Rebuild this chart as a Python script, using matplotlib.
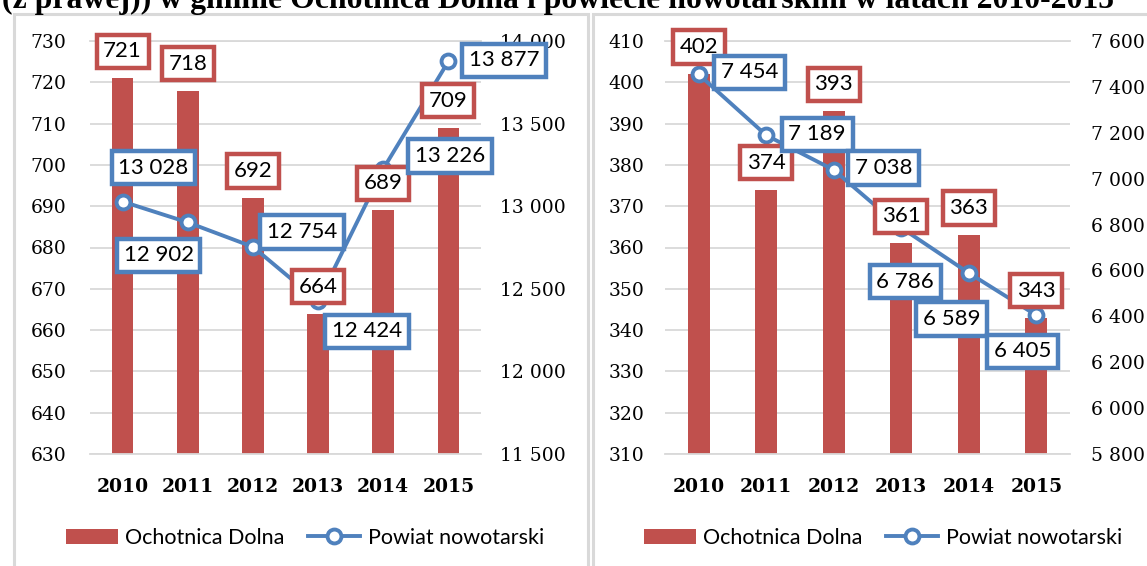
import matplotlib
matplotlib.use("Agg")
import matplotlib.pyplot as plt
from matplotlib.patches import Rectangle
from matplotlib.lines import Line2D
from matplotlib.ticker import FuncFormatter, MultipleLocator

# ---------------- data ----------------
years = ["2010", "2011", "2012", "2013", "2014", "2015"]
left_gmina = [721, 718, 692, 664, 689, 709]
left_powiat = [13028, 12902, 12754, 12424, 13226, 13877]
right_gmina = [402, 374, 393, 361, 363, 343]
right_powiat = [7454, 7189, 7038, 6786, 6589, 6405]
series_names = ["Ochotnica Dolna", "Powiat nowotarski"]
title_text = "(z prawej)) w gminie Ochotnica Dolna i powiecie nowotarskim w latach 2010-2015"

# ---------------- style ----------------
RED = "#C0504D"
BLUE = "#4F81BD"
GRID = "#D9D9D9"
W, H = 1147, 566
plt.rcParams["font.family"] = ["DejaVu Serif"]

fig = plt.figure(figsize=(W / 100, H / 100), dpi=100)


def fx(px):
    return px / W


def fy(py):
    return 1 - py / H


def fmt_space(v, pos=None):
    return f"{int(round(v)):,}".replace(",", " ")


# panel borders
for x0, x1 in [(13.5, 587.5), (592.5, 1170)]:
    fig.add_artist(Rectangle((fx(x0), fy(620)), fx(x1 - x0), (620 - 13.5) / H,
                             transform=fig.transFigure, fill=False,
                             edgecolor=GRID, lw=2.2))

fig.text(fx(2), fy(8), title_text, fontfamily="Liberation Serif",
         fontweight="bold", fontsize=22.9, va="baseline", ha="left")


def panel(left_px, right_px, bars, line, ylim1, step1, ylim2, step2,
          pad_l, pad_r, blue_off, legend_cx):
    ax = fig.add_axes([fx(left_px), fy(454), fx(right_px - left_px), (454 - 41) / H])
    x = list(range(len(years)))
    ax.bar(x, bars, width=0.33, color=RED, zorder=2)
    ax.set_xlim(-0.5, len(years) - 0.5)
    ax.set_ylim(*ylim1)
    ax.yaxis.set_major_locator(MultipleLocator(step1))
    ax.grid(axis="y", color=GRID, lw=1.3, zorder=0)
    ax.set_axisbelow(True)
    ax.set_xticks(x)
    ax.set_xticklabels(years, fontfamily="DejaVu Serif", fontweight="bold", fontsize=13.5)
    for side, s in ax.spines.items():
        if side in ("top", "bottom"):
            s.set_color(GRID)
            s.set_linewidth(1.3)
        else:
            s.set_visible(False)
    ax.tick_params(length=0)
    ax.tick_params(axis="y", pad=pad_l, labelsize=13.5)
    ax.tick_params(axis="x", pad=17)

    ax2 = ax.twinx()
    ax2.plot(x, line, color=BLUE, lw=2.8, marker="o", ms=10, mfc="white",
             mec=BLUE, mew=2.8, zorder=3)
    ax2.set_ylim(*ylim2)
    ax2.yaxis.set_major_locator(MultipleLocator(step2))
    ax2.yaxis.set_major_formatter(FuncFormatter(fmt_space))
    for s in ax2.spines.values():
        s.set_visible(False)
    ax2.tick_params(length=0, pad=pad_r, labelsize=13.5)

    for i, v in enumerate(bars):
        ax2.annotate(str(v), xy=(i, v), xycoords=ax.transData,
                     xytext=(0, 27), textcoords="offset pixels",
                     ha="center", va="center", fontfamily="Lato", fontsize=16,
                     bbox=dict(boxstyle="square,pad=0.3", fc="white", ec=RED, lw=3.2),
                     zorder=5)
    for i, (v, (dx, dy)) in enumerate(zip(line, blue_off)):
        ax2.annotate(fmt_space(v), xy=(i, v), xycoords="data",
                     xytext=(dx, -dy), textcoords="offset pixels",
                     ha="center", va="center", fontfamily="Lato", fontsize=16,
                     bbox=dict(boxstyle="square,pad=0.3", fc="white", ec=BLUE, lw=3.2),
                     zorder=6)

    handles = [Rectangle((0, 0), 1, 1, fc=RED, ec="none"),
               Line2D([], [], color=BLUE, lw=2.8, marker="o", ms=10, mfc="white",
                      mec=BLUE, mew=2.8)]
    fig.legend(handles, series_names, loc="center",
               bbox_to_anchor=(fx(legend_cx), fy(538)), ncol=2, frameon=False,
               prop={"family": "Lato", "size": 15.5}, handlelength=2.4,
               handletextpad=0.35, columnspacing=1.1)
    return ax, ax2


left_blue_off = [(31, -34), (-29, 33), (49, -15), (49, 30), (67, -13), (56, -1)]
right_blue_off = [(51, -2), (51, -1), (50, -2), (4, 54), (-17, 46), (-14, 36)]

panel(90, 481, left_gmina, left_powiat, (630, 730), 10, (11500, 14000), 500,
      17, 14, left_blue_off, 305)
panel(665, 1070, right_gmina, right_powiat, (310, 410), 10, (5800, 7600), 200,
      15, 15, right_blue_off, 883)

fig.savefig("out.png", dpi=100)
